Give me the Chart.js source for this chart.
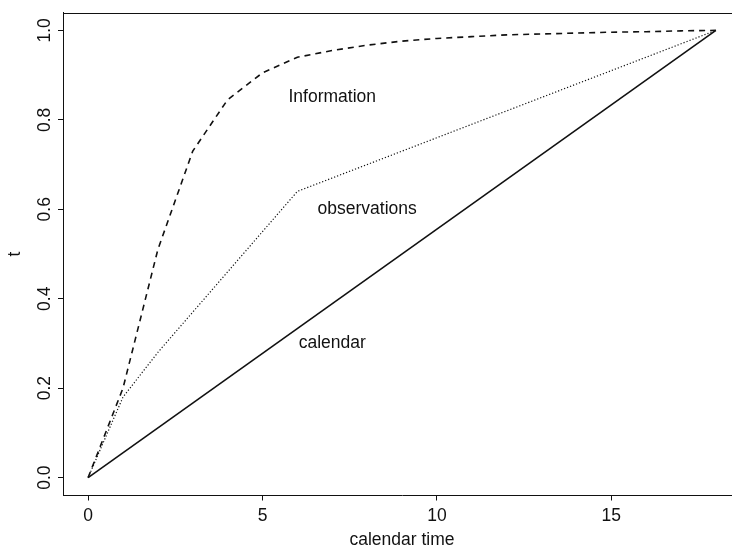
<!DOCTYPE html>
<html><head><meta charset="utf-8">
<script src="https://cdn.jsdelivr.net/npm/chart.js@4/dist/chart.umd.min.js"></script>
<style>
html,body{margin:0;padding:0;background:#fff;overflow:hidden;width:732px;height:553px;}
#wrap{position:absolute;left:0;top:0;width:760px;height:553px;}
</style></head><body>
<div id="wrap"><canvas id="c"></canvas></div>
<script>
// calendar time (x) and information time t (y)
const calendarX = [0, 18];
const calendarT = [0, 1];
const infoX = [0,1,2,3,4,5,6,7,8,9,10,11,12,13,14,15,16,17,18];
const infoT = [0,0.2,0.51,0.73,0.845,0.905,0.94,0.955,0.967,0.976,0.982,0.986,0.99,0.992,0.994,0.996,0.997,0.999,1];
const obsX = [0,1,2,3,4,5,6,9,12,15,18];
const obsT = [0,0.18,0.28,0.37,0.46,0.55,0.64,0.73,0.82,0.91,1];
const xTickValues = [0,5,10,15];
const yTickValues = [0,0.2,0.4,0.6,0.8,1.0];
const yTickLabels = ["0.0","0.2","0.4","0.6","0.8","1.0"];
const annotLabels = ["Information","observations","calendar"];
const annotX = [7,8,7];
const annotY = [0.85,0.6,0.3];
const xTitle = "calendar time";
const yTitle = "t";

const FONT = {family:'"Liberation Sans", Arial, Helvetica, sans-serif', size:17.5};
const INK = '#111';

const pts = (xs, ys) => xs.map((v,i)=>({x:v, y:ys[i]}));

const boxAndText = {
  id:'boxAndText',
  afterDraw(chart){
    const {ctx, chartArea:a, scales:{x, y}} = chart;
    ctx.save();
    ctx.strokeStyle = INK; ctx.lineWidth = 1;
    ctx.beginPath();
    ctx.moveTo(a.left, Math.round(a.top)+0.5);
    ctx.lineTo(a.right, Math.round(a.top)+0.5);
    ctx.moveTo(Math.round(a.right)-0.5, a.top);
    ctx.lineTo(Math.round(a.right)-0.5, a.bottom);
    ctx.stroke();
    ctx.fillStyle = INK;
    ctx.font = FONT.size + 'px ' + FONT.family;
    ctx.textAlign = 'center';
    ctx.textBaseline = 'middle';
    annotLabels.forEach((s,i)=>{
      ctx.fillText(s, x.getPixelForValue(annotX[i]), y.getPixelForValue(annotY[i]));
    });
    ctx.restore();
  }
};

new Chart(document.getElementById('c'), {
  type:'line',
  data:{
    datasets:[
      {label:'Information', data:pts(infoX, infoT), borderColor:INK, borderWidth:1.6, borderDash:[6,5], pointRadius:0, fill:false, tension:0},
      {label:'observations', data:pts(obsX, obsT), borderColor:INK, borderWidth:1.2, borderDash:[1.2,2], pointRadius:0, fill:false, tension:0},
      {label:'calendar', data:pts(calendarX, calendarT), borderColor:INK, borderWidth:1.6, pointRadius:0, fill:false, tension:0}
    ]
  },
  options:{
    responsive:true, maintainAspectRatio:false, animation:false,
    layout:{padding:{top:12.5, right:19, bottom:0, left:0}},
    plugins:{legend:{display:false}, tooltip:{enabled:false}},
    scales:{
      x:{
        type:'linear', min:-0.72, max:18.72,
        afterBuildTicks:s=>{ s.ticks = xTickValues.map(v=>({value:v})); },
        afterFit:s=>{ s.height = 57.5; },
        ticks:{font:FONT, color:INK, padding:5, maxRotation:0, minRotation:0, autoSkip:false, callback:v=>String(v)},
        grid:{display:true, drawOnChartArea:false, drawTicks:true, tickLength:5, color:INK, lineWidth:1},
        border:{display:true, color:INK, width:1},
        title:{display:true, text:xTitle, font:FONT, color:INK, padding:{top:0, bottom:2.5}}
      },
      y:{
        type:'linear', min:-0.04, max:1.04,
        afterBuildTicks:s=>{ s.ticks = yTickValues.map(v=>({value:v})); },
        afterFit:s=>{ s.width = 63; },
        ticks:{font:FONT, color:INK, padding:1, minRotation:90, maxRotation:90, crossAlign:'center', autoSkip:false,
          callback:(v)=>{ const i = yTickValues.findIndex(t=>Math.abs(t-v)<1e-9); return i>=0 ? yTickLabels[i] : ''; }},
        grid:{display:true, drawOnChartArea:false, drawTicks:true, tickLength:5, color:INK, lineWidth:1},
        border:{display:true, color:INK, width:1},
        title:{display:true, text:yTitle, font:FONT, color:INK, padding:{top:4.5, bottom:0}}
      }
    }
  },
  plugins:[boxAndText]
});
</script>
</body></html>
